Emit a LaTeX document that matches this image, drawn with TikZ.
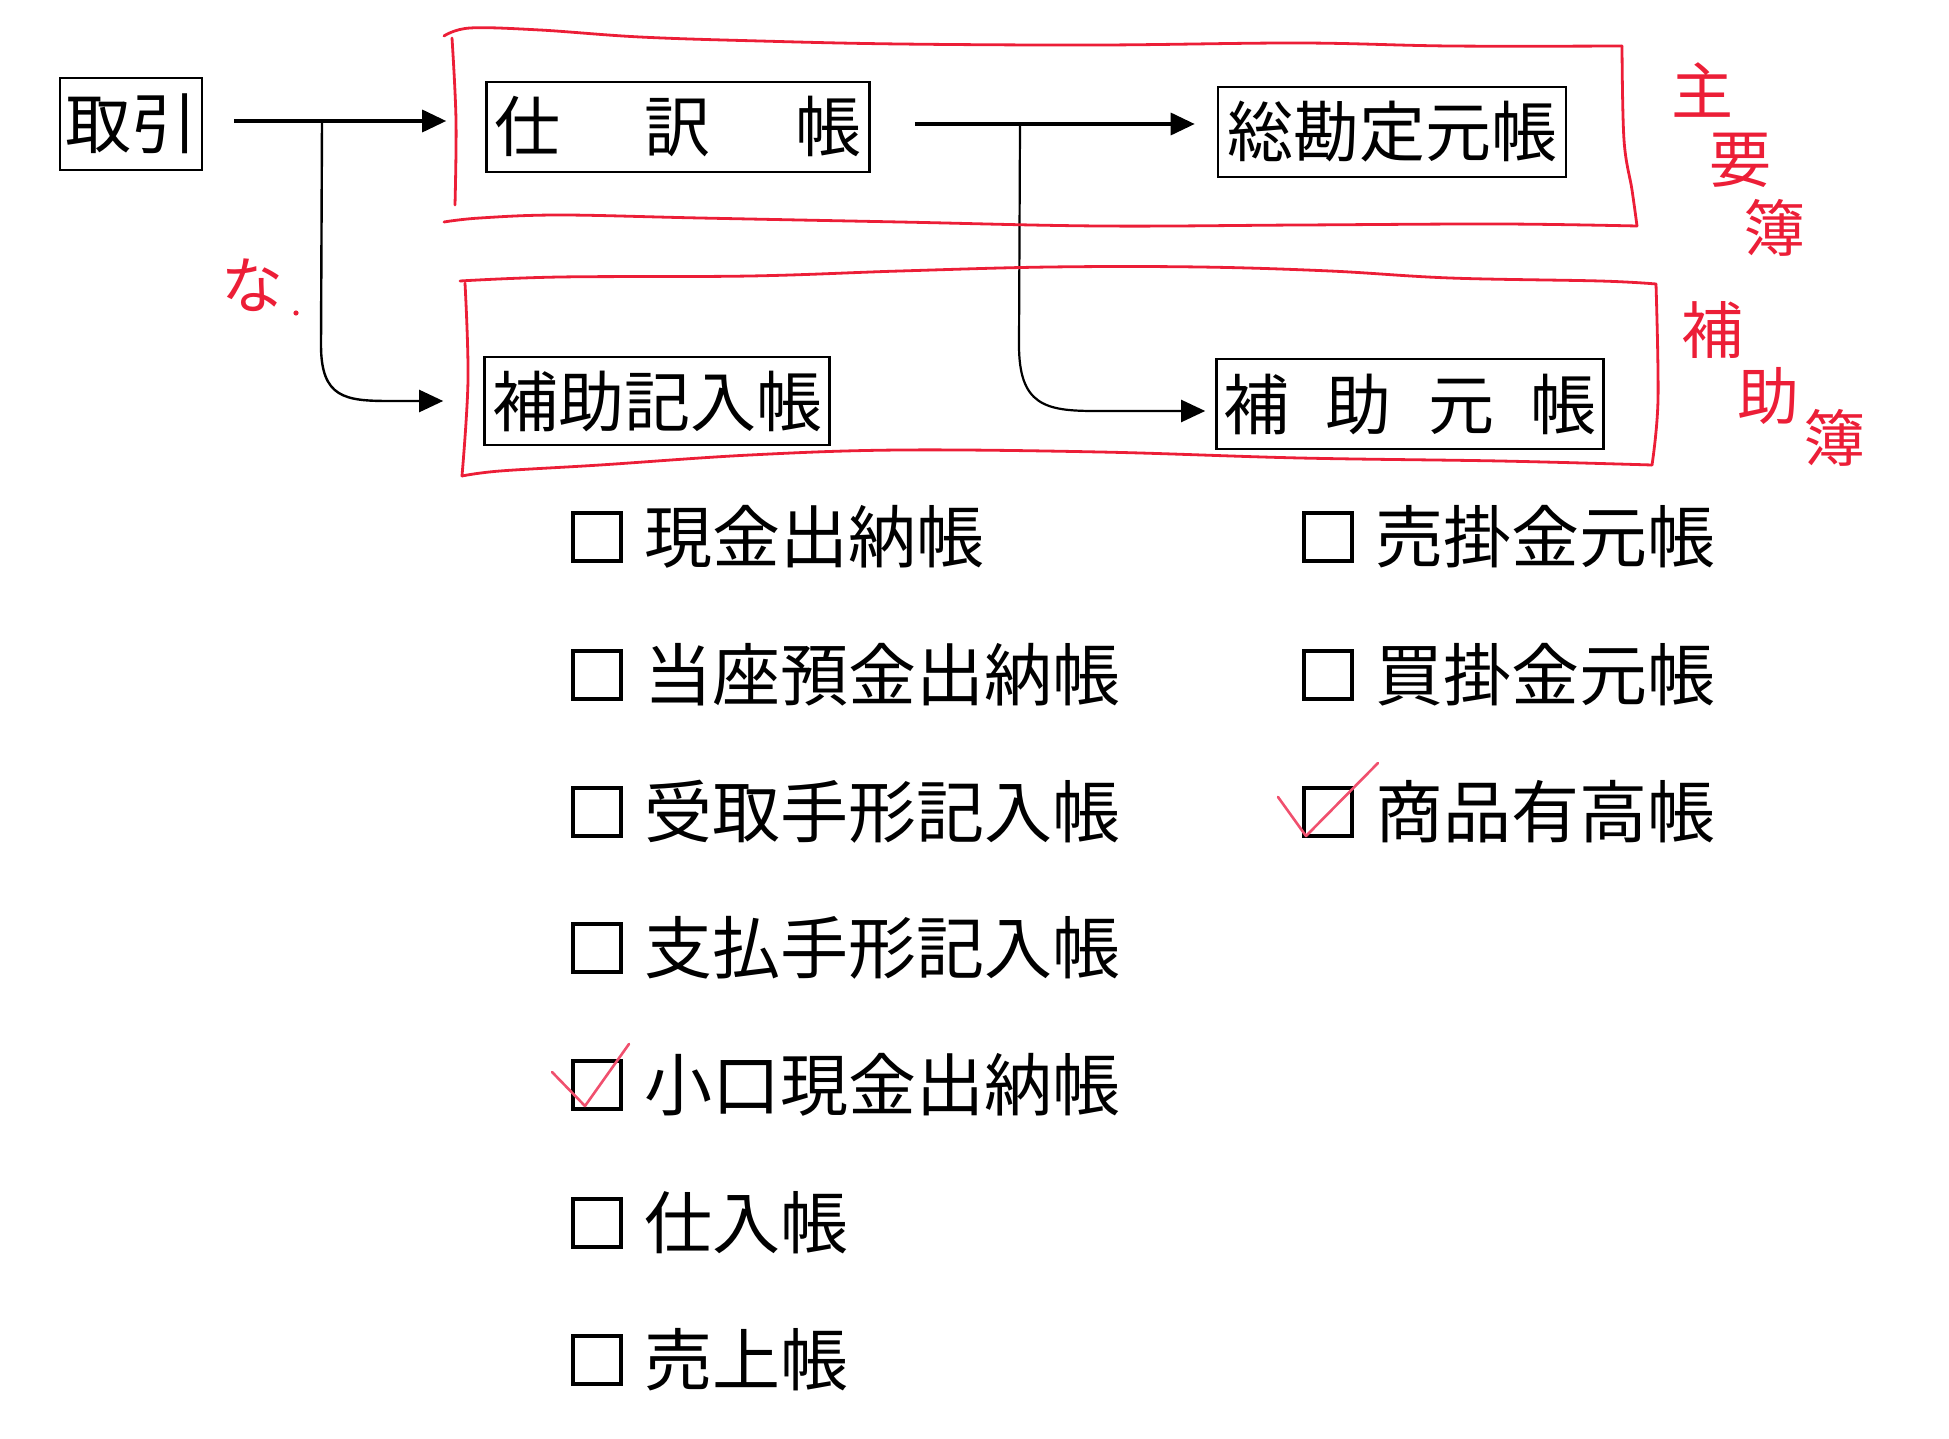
\documentclass[tikz,border=0pt]{standalone}
\usepackage{fontspec}
\setmainfont{Noto Sans CJK JP}
\usetikzlibrary{arrows.meta}
\definecolor{pen}{RGB}{236,30,55}
\definecolor{penlight}{RGB}{240,80,110}
\newcommand\bigjp{\fontsize{66}{72}\selectfont}
\newcommand\listjp{\fontsize{68}{74}\selectfont}
\newcommand\handjp{\fontsize{62}{68}\selectfont}
\begin{document}
\begin{tikzpicture}[x=1pt,y=-1pt,
  ledger/.style={draw, line width=2.6pt, inner sep=0pt, font=\bigjp},
  flow/.style={line width=3.4pt, -{Triangle[length=24pt,width=22pt]}},
  flowthin/.style={line width=2.4pt, -{Triangle[length=24pt,width=22pt]}},
  redline/.style={draw=pen, line width=2.8pt, line cap=round, line join=round},
  chk/.style={draw, line width=4pt, minimum size=48pt, inner sep=0pt},
  item/.style={anchor=west, inner sep=0pt, font=\listjp},
  hand/.style={text=pen, font=\handjp, inner sep=0pt},
  tick/.style={draw=penlight, line width=2.6pt, line cap=round, line join=round}]
\useasboundingbox (0,0) rectangle (1949,1439);

% ledger boxes
\node[ledger, minimum width=142pt, minimum height=92pt] (torihiki) at (131,124) {取引};
\node[ledger, minimum width=383pt, minimum height=90pt] (shiwake) at (678,127) {\makebox[368pt]{仕\hfill 訳\hfill 帳}};
\node[ledger, minimum width=348pt, minimum height=90pt] (sokanjo) at (1392,132) {総勘定元帳};
\node[ledger, minimum width=345pt, minimum height=88pt] (hojokinyu) at (657,401) {補助記入帳};
\node[ledger, minimum width=387pt, minimum height=90pt] (hojomoto) at (1410,404) {\makebox[374pt]{補\hfill 助\hfill 元\hfill 帳}};

% connectors
\coordinate (a0) at ([xshift=31pt]torihiki.east |- 0,121);
\coordinate (a1) at (322,121);
\coordinate (a2) at ([xshift=-39pt]shiwake.west |- 0,121);
\coordinate (a3) at ([xshift=-40pt]hojokinyu.west);
\draw[flow] (a0) -- (a2);
\draw[flowthin] (a1) -- (321,345) .. controls (321,398) and (345,401) .. (390,401) -- (a3);

\coordinate (b0) at ([xshift=44pt]shiwake.east |- 0,124);
\coordinate (b1) at (1020,124);
\coordinate (b2) at ([xshift=-22pt]sokanjo.west |- 0,124);
\coordinate (b3) at ([xshift=-10pt]hojomoto.west |- 0,411);
\draw[flow] (b0) -- (b2);
\draw[flowthin, line width=2.2pt] (b1) -- (1019,345) .. controls (1019,405) and (1045,411) .. (1095,411) -- (b3);

% red hand-drawn groupings
\draw[redline] plot[smooth, tension=0.6] coordinates {(444,36) (470,28) (540,30) (640,37) (760,41) (900,44) (1100,45) (1300,43) (1450,46) (1622,46)};
\draw[redline] plot[smooth, tension=0.6] coordinates {(1622,46) (1624,140) (1632,190) (1637,226)};
\draw[redline] plot[smooth, tension=0.6] coordinates {(1637,226) (1500,224) (1300,225) (1100,226) (900,222) (700,218) (560,215) (480,218) (444,222)};
\draw[redline] plot[smooth, tension=0.6] coordinates {(452,38) (456,120) (455,205)};

\draw[redline] plot[smooth, tension=0.6] coordinates {(460,281) (560,277) (750,276) (900,271) (1050,267) (1200,267) (1330,271) (1450,278) (1600,281) (1656,284)};
\draw[redline] plot[smooth, tension=0.6] coordinates {(1656,284) (1658,400) (1652,465)};
\draw[redline] plot[smooth, tension=0.6] coordinates {(1652,465) (1500,461) (1300,458) (1100,452) (900,450) (750,455) (600,465) (500,471) (462,476)};
\draw[redline] plot[smooth, tension=0.6] coordinates {(465,283) (468,380) (462,476)};

% handwritten notes
\node[hand] (n1) at (1702,90) {主};
\node[hand] (n2) at (1740,160) {要};
\node[hand] (n3) at (1774,228) {簿};
\node[hand] (n4) at (1712,330) {補};
\node[hand] (n5) at (1768,396) {助};
\node[hand] (n6) at (1834,438) {簿};
\node[hand] (n7) at (252,285) {な};
\fill[pen] (296,313) circle (2.6pt);

% check list, left column
\foreach \y/\t [count=\i] in {537/現金出納帳, 675/当座預金出納帳, 812/受取手形記入帳, 948/支払手形記入帳, 1085/小口現金出納帳, 1223/仕入帳, 1360/売上帳} {
  \node[chk] (cl\i) at (597,\y) {};
  \node[item] (tl\i) at (644,\y) {\t};
}
% right column
\foreach \y/\t [count=\i] in {537/売掛金元帳, 675/買掛金元帳, 812/商品有高帳} {
  \node[chk] (cr\i) at (1328,\y) {};
  \node[item] (tr\i) at (1375,\y) {\t};
}

% red ticks
\coordinate (k1a) at (552,1072);
\coordinate (k1b) at (585,1106);
\coordinate (k1c) at (629,1044);
\draw[tick] (k1a) -- (k1b) -- (k1c);
\coordinate (k2a) at (1278,797);
\coordinate (k2b) at (1306,836);
\coordinate (k2c) at (1378,763);
\draw[tick] (k2a) -- (k2b) -- (k2c);
\end{tikzpicture}
\end{document}
